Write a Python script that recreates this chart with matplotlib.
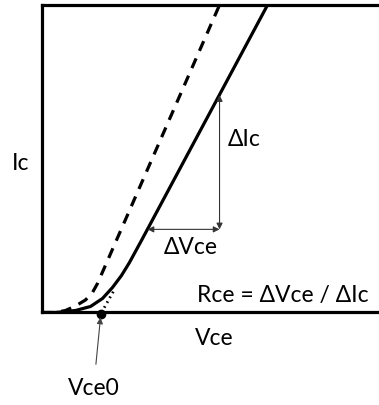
import matplotlib.pyplot as plt
import numpy as np

#--------------------------Donnees (unites arbitraires)-------------------------------------------
# courbe pleine Ic(Vce)
V_solid = [1, 14, 34, 49, 61, 71, 80, 88, 100, 226]
I_solid = [0, 0, 2, 6, 14, 25, 37, 50, 72, 307]

# courbe en tirets
V_dash = [1, 14, 24, 34, 44, 51, 56, 178]
I_dash = [0, 0, 2, 6.5, 12.5, 20, 29, 307]

# extrapolation de la partie lineaire -> Vce0
Vce0 = 60
V_dot = [Vce0, 73]
I_dot = [0, 23]

# triangle dVce / dIc
V_delta = [106, 178]
I_delta = [83, 217]

#--------------------------Figure-------------------------------------------
plt.rcParams['font.family'] = ['Lato', 'DejaVu Sans']
fs = 16.5

fig = plt.figure(figsize=(3.79, 4.05), dpi=100)
ax = fig.add_axes([0.1095, 0.2284, 0.892, 0.7593])
ax.set_xlim(0, 338)
ax.set_ylim(0, 307)

for s in ['left', 'bottom', 'top']:
    ax.spines[s].set_linewidth(2.3)
ax.spines['right'].set_visible(False)
ax.set_xticks([])
ax.set_yticks([])

ax.plot(V_solid, I_solid, color='black', lw=2.3, solid_capstyle='butt')
ax.plot(V_dash, I_dash, color='black', lw=2.3, dashes=(3.3, 2.6))
ax.plot(V_dot, I_dot, color='black', lw=2.0, dashes=(0.6, 1.4))
ax.plot([Vce0 - 1], [-1.5], 'o', color='black', markersize=6, clip_on=False)

# fleches dIc et dVce
ax.annotate('', xy=(V_delta[1], I_delta[1]), xytext=(V_delta[1], I_delta[0]),
            arrowprops=dict(arrowstyle='<|-|>', color='#333333', lw=0.8, mutation_scale=9,
                            shrinkA=0, shrinkB=0))
ax.annotate('', xy=(V_delta[0], I_delta[0]), xytext=(V_delta[1], I_delta[0]),
            arrowprops=dict(arrowstyle='<|-|>', color='#333333', lw=0.8, mutation_scale=9,
                            shrinkA=0, shrinkB=0))

# fleche vers Vce0
ax.annotate('Vce0', xy=(Vce0 - 1, -5), xytext=(52, -76), ha='center', va='center',
            fontsize=fs, annotation_clip=False,
            arrowprops=dict(arrowstyle='-|>', color='#444444', lw=0.8, mutation_scale=9,
                            shrinkA=8, shrinkB=0))

ax.text(-21, 149, 'Ic', ha='center', va='center', fontsize=fs, clip_on=False)
ax.text(186, 173, 'ΔIc', ha='left', va='center', fontsize=fs)
ax.text(149, 65, 'ΔVce', ha='center', va='center', fontsize=fs)
ax.text(155, 17, 'Rce = ΔVce / ΔIc', ha='left', va='center', fontsize=fs)
ax.text(173, -26, 'Vce', ha='center', va='center', fontsize=fs, clip_on=False)

plt.savefig('out.png', dpi=100)
